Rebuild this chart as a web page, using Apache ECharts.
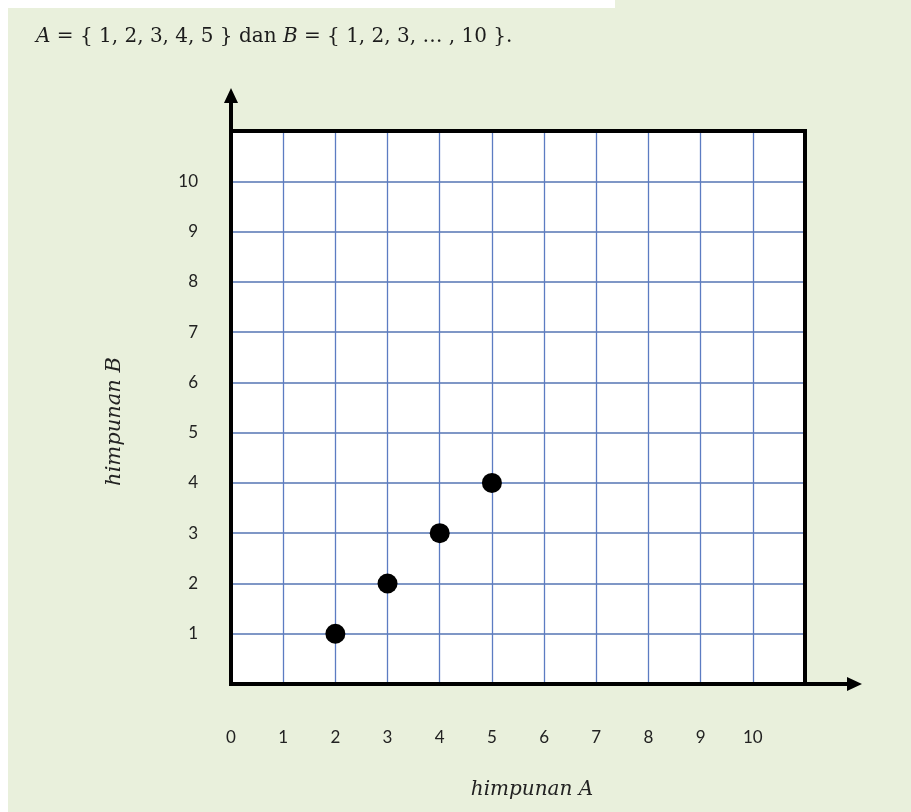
<!DOCTYPE html>
<html>
<head>
<meta charset="utf-8">
<script src="https://cdn.jsdelivr.net/npm/echarts@6/dist/echarts.min.js"></script>
<style>
  html, body { margin: 0; padding: 0; background: #e9f0dc; }
  #chart { width: 911px; height: 812px; }
</style>
</head>
<body>
<div id="chart"></div>
<script>
// Sets A and B and the relation pairs plotted on the grid
const setA = [1, 2, 3, 4, 5];
const pairsA = [2, 3, 4, 5];
const pairsB = [1, 2, 3, 4];
const xTicks = [0, 1, 2, 3, 4, 5, 6, 7, 8, 9, 10];
const yTicks = [1, 2, 3, 4, 5, 6, 7, 8, 9, 10];
const axisMax = 11;

const points = pairsA.map((a, i) => [a, pairsB[i]]);

const chart = echarts.init(document.getElementById('chart'), null, { renderer: 'canvas' });

const grid = { left: 231, top: 131, width: 574, height: 553 };
const nameFont = { fontFamily: 'DejaVu Serif', fontStyle: 'italic', fontSize: 20, color: '#222' };

const option = {
  backgroundColor: '#e9f0dc',
  animation: false,
  title: {
    left: 31,
    top: 22,
    text: '{i|A} = { 1, 2, 3, 4, 5 } dan {i|B} = { 1, 2, 3, … , 10 }.',
    textStyle: {
      fontFamily: 'DejaVu Serif',
      fontSize: 20,
      fontWeight: 'normal',
      color: '#1c1c1c',
      rich: {
        i: { fontFamily: 'DejaVu Serif', fontStyle: 'italic', fontSize: 20, color: '#1c1c1c' }
      }
    }
  },
  grid: Object.assign({ show: true, backgroundColor: '#ffffff', borderWidth: 0 }, grid),
  xAxis: {
    type: 'value',
    min: 0,
    max: axisMax,
    interval: 1,
    name: 'himpunan A',
    nameLocation: 'middle',
    nameGap: 96,
    nameTextStyle: Object.assign({ padding: [0, 0, 0, 28] }, nameFont),
    axisLine: { show: false },
    axisTick: { show: false },
    axisLabel: {
      margin: 45,
      fontFamily: 'Lato',
      fontSize: 17,
      color: '#222',
      formatter: v => (xTicks.includes(v) ? String(v) : '')
    },
    splitLine: { show: true, lineStyle: { color: '#5c7cc2', width: 1.3 } }
  },
  yAxis: {
    type: 'value',
    min: 0,
    max: axisMax,
    interval: 1,
    name: 'himpunan B',
    nameLocation: 'middle',
    nameGap: 106,
    nameRotate: 90,
    nameTextStyle: Object.assign({ padding: [0, 28, 0, 0] }, nameFont, { fontSize: 21 }),
    axisLine: { show: false },
    axisTick: { show: false },
    axisLabel: {
      margin: 33,
      fontFamily: 'Lato',
      fontSize: 17,
      color: '#222',
      formatter: v => (yTicks.includes(v) ? String(v) : '')
    },
    splitLine: { show: true, lineStyle: { color: '#7f97c6', width: 2 } }
  },
  series: [{
    type: 'scatter',
    data: points,
    symbol: 'circle',
    symbolSize: 20,
    itemStyle: { color: '#000', opacity: 1 },
    z: 10
  }]
};

chart.setOption(option);

// Frame and arrowed axes, placed from the grid's own pixel coordinates
const o = chart.convertToPixel({ gridIndex: 0 }, [0, 0]);
const tr = chart.convertToPixel({ gridIndex: 0 }, [axisMax, axisMax]);
const yTip = tr[1] - 43;
const xTip = tr[0] + 57;
const lw = 4;

chart.setOption({
  graphic: [
    { type: 'rect', shape: { x: 0, y: 0, width: 8, height: 812 }, style: { fill: '#ffffff' }, silent: true },
    { type: 'rect', shape: { x: 0, y: 0, width: 615, height: 8 }, style: { fill: '#ffffff' }, silent: true },
    {
      type: 'rect', z: 100,
      shape: { x: o[0], y: tr[1], width: tr[0] - o[0], height: o[1] - tr[1] },
      style: { fill: 'none', stroke: '#000', lineWidth: lw }
    },
    {
      type: 'line', z: 100,
      shape: { x1: o[0], y1: o[1], x2: o[0], y2: yTip + 10 },
      style: { stroke: '#000', lineWidth: lw }
    },
    {
      type: 'polygon', z: 100,
      shape: { points: [[o[0], yTip], [o[0] - 7, yTip + 15], [o[0] + 7, yTip + 15]] },
      style: { fill: '#000' }
    },
    {
      type: 'line', z: 100,
      shape: { x1: o[0], y1: o[1], x2: xTip - 10, y2: o[1] },
      style: { stroke: '#000', lineWidth: lw }
    },
    {
      type: 'polygon', z: 100,
      shape: { points: [[xTip, o[1]], [xTip - 15, o[1] - 7], [xTip - 15, o[1] + 7]] },
      style: { fill: '#000' }
    }
  ]
});
</script>
</body>
</html>
